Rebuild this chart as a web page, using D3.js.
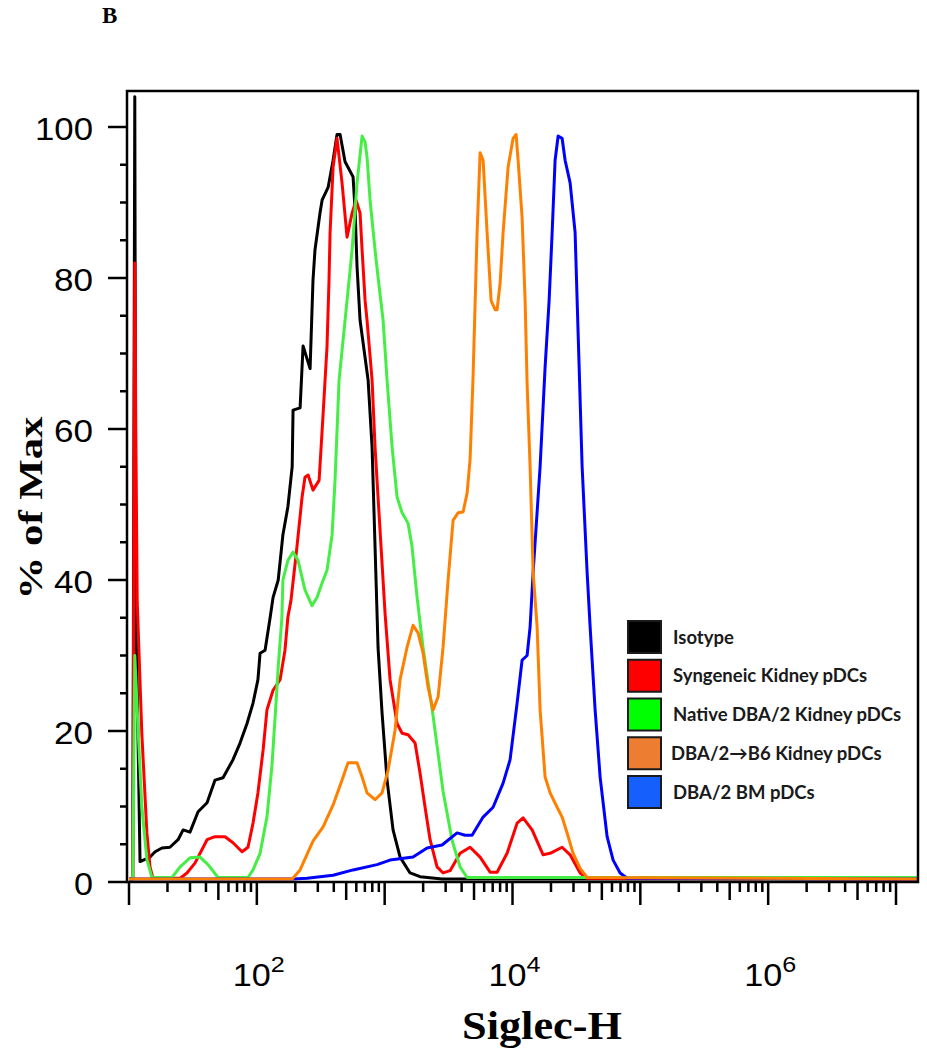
<!DOCTYPE html>
<html><head><meta charset="utf-8">
<script src="https://cdn.jsdelivr.net/npm/d3@7"></script>
<style>body{margin:0;background:#fff}</style>
</head><body>
<svg id="c" width="927" height="1050"></svg>
<script>
// ---------- data ----------
const seriesNames = ["Isotype", "Syngeneic Kidney pDCs", "Native DBA/2 Kidney pDCs", "DBA/2\u2192B6 Kidney pDCs", "DBA/2 BM pDCs"];
const lineColors = ["#000000", "#ff0000", "#44ee44", "#ff8000", "#0000ff"];
const swatchColors = ["#000000", "#ff0000", "#00ff00", "#ed7d31", "#1560fd"];

// [Siglec-H intensity, % of Max]
const isotype = [[10,0.4],[10.7,0.4],[11.1,104],[11.3,37],[12.2,2.7],[14.6,3.3],[16.0,4.0],[18.1,4.5],[20.9,4.6],[24.2,5.6],[26.5,6.9],[30.0,6.6],[34.7,9.3],[40.8,10.5],[47.1,13.5],[54.4,13.8],[65.1,16.2],[73.9,18.4],[83.8,21.0],[93.4,23.7],[102,26.8],[106,30.3],[116,30.7],[127,35.0],[134,37.7],[147,40],[160,46],[175,49.7],[189,55],[192,62.5],[218,62.8],[230,71],[261,68],[275,79.7],[285,83.7],[312,88.6],[324,90.3],[361,92],[395,95.6],[424,99],[448,99],[490,95.4],[566,93.4],[587,89],[608,81.5],[642,74.4],[742,66.5],[797,57.6],[841,44.4],[888,31],[954,22.4],[1044,13.5],[1163,6.9],[1320,3.3],[1580,1.2],[1892,0.7],[2812,0.4],[14660000,0.4]];
const syngeneic = [[10,0.4],[10.7,0.4],[11.1,82],[11.3,60],[11.6,37],[12.6,19.7],[13.8,6.5],[14.6,2],[15.4,0.5],[25.1,0.5],[28.4,1.2],[32.8,2.5],[40.8,5.6],[47.1,6],[56.4,6],[65.1,5.2],[76.6,4.0],[85.3,4.6],[93.4,7.8],[102,11.8],[112,17.5],[120,22.8],[134,25.4],[152,26.8],[166,30.7],[175,35.1],[185,37.3],[206,44.4],[226,51],[238,53.6],[252,53.9],[275,51.9],[307,53.2],[330,62],[354,70.9],[367,79.7],[374,86],[395,94.7],[424,98.5],[464,92.6],[508,85.4],[556,88.6],[597,90.3],[642,88.6],[666,83.7],[703,77],[728,74.4],[797,66.5],[841,57.6],[920,46.6],[1007,35.6],[1102,26.8],[1250,21],[1369,19.7],[1525,19.5],[1729,18.4],[1892,14.4],[2071,9.9],[2266,5.6],[2570,2],[2864,1.2],[3249,1.5],[3890,3.8],[4659,4.6],[5580,3.3],[6679,1.3],[7577,1.3],[9074,3.8],[10865,7.8],[12100,8.5],[14240,6.9],[17360,3.6],[19690,3.8],[24440,4.6],[28230,3.6],[33810,1.2],[38350,0.5],[14660000,0.4]];
const nativeDBA = [[10,0.4],[10.7,0.4],[11.1,30],[11.8,20],[12.6,10],[13.8,3],[15.1,0.6],[21.7,0.6],[25.1,2],[30,3.2],[35.9,3.3],[41.5,2.3],[49.7,0.6],[85.3,0.6],[93.4,1.6],[106,3.8],[120,8.6],[131,15.2],[139,21.8],[147,28.5],[157,35],[160,40],[175,42.6],[192,43.7],[210,42.6],[238,38.7],[270,36.6],[296,37.7],[324,39.6],[354,41.3],[388,46],[409,53.2],[440,66.5],[490,74.4],[556,83.7],[608,92.6],[666,98.8],[703,98],[728,96],[769,90.3],[841,83.7],[888,80.1],[972,74.4],[1044,66.5],[1143,57.6],[1250,51],[1369,48.9],[1525,47.5],[1638,44.4],[1793,37.7],[1998,31],[2392,22],[2864,12],[3369,5.5],[3890,2],[4414,0.6],[14660000,0.6]];
const dbaToB6 = [[10,0.4],[189,0.4],[218,1.6],[275,5.4],[330,7.3],[395,10.2],[464,13.5],[517,15.8],[608,15.8],[666,13.9],[728,11.8],[841,10.9],[954,11.8],[1063,14.8],[1206,20.1],[1320,26.8],[1497,31.1],[1668,34],[1826,33],[1998,30.3],[2186,25.8],[2392,22.8],[2617,24.5],[2864,31.1],[3135,40],[3429,47.9],[3752,48.9],[4106,49],[4414,51.5],[4659,56],[4917,67],[5285,86],[5580,96.6],[5888,95.6],[6328,86],[6803,77],[7310,75.8],[7577,75.8],[8000,79.3],[8443,86],[9240,94.7],[10110,98.5],[10670,99],[11060,95.6],[11890,88],[12550,77],[13010,66],[13730,55],[14500,41],[15580,33.8],[16440,22.8],[17990,13.9],[19690,11.8],[22340,9.9],[24440,8.6],[26740,6.5],[29800,3.8],[33810,1.8],[38350,0.6],[14660000,0.4]];
const dbaBM = [[10,0.4],[192,0.4],[247,0.5],[395,0.9],[566,1.6],[872,2.3],[1102,2.9],[1668,3.3],[2147,4.5],[2812,4.9],[3686,6.5],[4256,6.2],[4830,6.2],[5888,8.6],[7050,9.9],[8443,13.1],[9577,16.2],[10865,23.7],[11890,29.4],[13010,30],[13730,33.8],[14500,41],[16440,55],[17990,68.2],[19340,77],[20420,86],[21540,95.6],[22750,98.8],[24440,98.5],[25790,95.6],[28230,92.6],[30890,86],[32610,72.7],[35050,55],[38350,41],[40480,33.8],[44290,22.8],[48460,13.9],[54980,6],[61250,2.9],[69480,1.2],[78820,0.5],[14660000,0.4]];

const yTickValues = [0, 20, 40, 60, 80, 100];
const xLabelExponents = [2, 4, 6];
const xMajorExponents = [1, 2, 3, 4, 5, 6, 7];

// ---------- layout ----------
const svg = d3.select("#c");
const L = 127, T = 91, R = 918, B = 882;
const x = d3.scaleLog().domain([10, 1e7]).range([129, 896]);
const y = d3.scaleLinear().domain([0, 100]).range([882, 127]);

svg.append("defs").append("clipPath").attr("id", "clip")
  .append("rect").attr("x", L + 1).attr("y", T + 1).attr("width", R - L - 2).attr("height", B - T - 1);

// curves (draw order: isotype, syngeneic, native, BM, DBA->B6)
const seriesData = [isotype, syngeneic, nativeDBA, dbaToB6, dbaBM];
const drawOrder = [0, 1, 2, 4, 3];
const line = d3.line().x(d => x(d[0])).y(d => y(d[1]));
const g = svg.append("g").attr("clip-path", "url(#clip)");
drawOrder.forEach(i => {
  g.append("path").datum(seriesData[i])
    .attr("d", line).attr("fill", "none")
    .attr("stroke", lineColors[i]).attr("stroke-width", 3)
    .attr("stroke-linejoin", "round");
});

// frame
svg.append("rect").attr("x", L).attr("y", T).attr("width", R - L).attr("height", B - T)
  .attr("fill", "none").attr("stroke", "#000").attr("stroke-width", 2.5);

// y ticks
const yMinor = d3.range(0, 101, 5);
svg.append("g").selectAll("line").data(yMinor).join("line")
  .attr("x1", d => d % 20 === 0 ? 108 : 120).attr("x2", L)
  .attr("y1", d => y(d)).attr("y2", d => y(d))
  .attr("stroke", "#000").attr("stroke-width", 2.5);
const yLabelWidths = {0: 19, 20: 39, 40: 39, 60: 39, 80: 39, 100: 58};
svg.append("g").selectAll("text").data(yTickValues).join("text")
  .attr("x", 93).attr("y", d => y(d) + 13)
  .attr("text-anchor", "end")
  .attr("font-family", "Liberation Sans, Arial, sans-serif")
  .attr("font-size", 32)
  .attr("textLength", d => yLabelWidths[d]).attr("lengthAdjust", "spacingAndGlyphs")
  .text(d => d);

// x ticks
const xTicks = [];
xMajorExponents.forEach(e => {
  if (e < 7) for (let m = 1; m <= 9; m++) xTicks.push({v: m * Math.pow(10, e), m});
  else xTicks.push({v: Math.pow(10, e), m: 1});
});
svg.append("g").selectAll("line").data(xTicks).join("line")
  .attr("x1", d => x(d.v)).attr("x2", d => x(d.v))
  .attr("y1", B).attr("y2", d => d.m === 1 ? 905 : (d.m === 5 ? 900 : 892))
  .attr("stroke", "#000").attr("stroke-width", 2.5);

const xl = svg.append("g").selectAll("text").data(xLabelExponents).join("text")
  .attr("x", d => x(Math.pow(10, d)) - 24).attr("y", 986)
  .attr("font-family", "Liberation Sans, Arial, sans-serif")
  .attr("font-size", 32);
xl.append("tspan").attr("textLength", 38).attr("lengthAdjust", "spacingAndGlyphs").text("10");
xl.append("tspan").attr("dy", -14).attr("font-size", 22)
  .attr("textLength", 14).attr("lengthAdjust", "spacingAndGlyphs").text(d => d);

// axis titles
svg.append("text").attr("transform", "translate(42,508) rotate(-90)")
  .attr("text-anchor", "middle")
  .attr("font-family", "Liberation Serif, Times New Roman, serif")
  .attr("font-weight", "bold").attr("font-size", 34)
  .attr("textLength", 183).attr("lengthAdjust", "spacingAndGlyphs")
  .text("% of Max");
svg.append("text").attr("x", 542).attr("y", 1039)
  .attr("text-anchor", "middle")
  .attr("font-family", "Liberation Serif, Times New Roman, serif")
  .attr("font-weight", "bold").attr("font-size", 40)
  .attr("textLength", 160).attr("lengthAdjust", "spacingAndGlyphs")
  .text("Siglec-H");

// panel letter
svg.append("text").attr("x", 102).attr("y", 23)
  .attr("font-family", "Liberation Serif, Times New Roman, serif")
  .attr("font-weight", "bold").attr("font-size", 23).text("B");

// legend
const leg = svg.append("g");
const legY = d3.scalePoint().domain(seriesNames).range([637, 792]);
leg.selectAll("rect").data(seriesNames).join("rect")
  .attr("x", 628).attr("y", d => legY(d) - 16).attr("width", 33).attr("height", 32)
  .attr("fill", (d, i) => swatchColors[i]).attr("stroke", "#1a1a1a").attr("stroke-width", 2);
leg.selectAll("text").data(seriesNames).join("text")
  .attr("x", (d, i) => i === 3 ? 671 : 673).attr("y", d => legY(d) + 6.5)
  .attr("font-family", "Lato, Open Sans, sans-serif").attr("font-weight", "bold")
  .attr("font-size", 18.5).attr("fill", "#1a1a1a")
  .text(d => d);
</script>
</body></html>
